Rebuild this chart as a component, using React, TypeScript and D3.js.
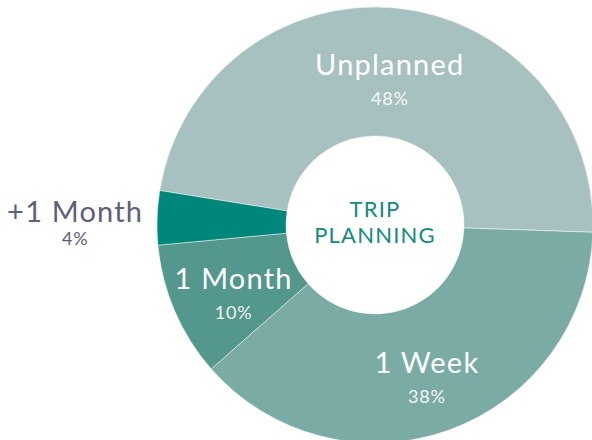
import React from "react";
import * as d3 from "d3";

const categories = ["Unplanned", "1 Week", "1 Month", "+1 Month"];
const shares = [48, 38, 10, 4];
const sliceColours = ["#a6c1bf", "#7aaba4", "#53978d", "#00867a"];
const centreLines = ["TRIP", "PLANNING"];

const width = 592;
const height = 440;
const cx = 375;
const cy = 225;
const outerR = 218;
const innerR = 89;
const startDeg = -80.9;

const App = () => {
    const rows = categories.map((name, i) => ({ name, value: shares[i], colour: sliceColours[i] }));

    const pie = d3.pie<any>()
        .value(d => d.value)
        .sort(null)
        .startAngle((startDeg * Math.PI) / 180)
        .endAngle(((startDeg + 360) * Math.PI) / 180);

    const arcs = pie(rows);

    const arc = d3.arc<any>().innerRadius(innerR).outerRadius(outerR);
    const labelArc = d3.arc<any>().innerRadius(154).outerRadius(154);
    const outsideArc = d3.arc<any>().innerRadius(300).outerRadius(300);

    const font = "Lato, 'Noto Sans', sans-serif";

    return (
        <svg
            width={width}
            height={height}
            style={{ position: "absolute", left: 0, top: 0, display: "block", background: "white" }}
        >
            <g transform={`translate(${cx},${cy})`}>
                {arcs.map((a, i) => (
                    <path key={i} d={arc(a) || ""} fill={a.data.colour} stroke="#ffffff" strokeOpacity={0.6} strokeWidth={0.8} />
                ))}
                {arcs.map((a, i) => {
                    const outside = a.data.value < 5;
                    const [lx, ly] = outside ? outsideArc.centroid(a) : labelArc.centroid(a);
                    const nameY = outside ? ly + 7 : ly + 3;
                    return (
                        <g key={"l" + i} fontFamily={font} textAnchor="middle">
                            <text
                                x={lx}
                                y={nameY}
                                fontSize={29}
                                letterSpacing={1.2}
                                fill={outside ? "#5d6078" : "#ffffff"}
                            >
                                {a.data.name}
                            </text>
                            <text
                                x={lx}
                                y={nameY + (outside ? 23 : 30)}
                                fontSize={18}
                                letterSpacing={0.8}
                                fill={outside ? "#5d6078" : "#ffffff"}
                                fillOpacity={outside ? 1 : 0.92}
                            >
                                {a.data.value + "%"}
                            </text>
                        </g>
                    );
                })}
                {centreLines.map((t, i) => (
                    <text
                        key={"c" + i}
                        x={0}
                        y={-8 + i * 26}
                        textAnchor="middle"
                        fontFamily={font}
                        fontSize={22}
                        letterSpacing={1.2}
                        fill="#118a80"
                    >
                        {t}
                    </text>
                ))}
            </g>
        </svg>
    );
};

export default App;
